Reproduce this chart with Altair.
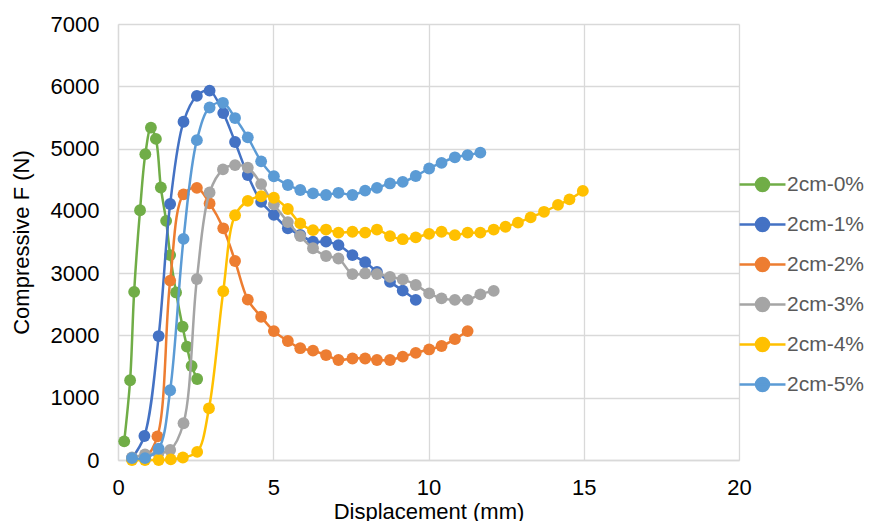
import altair as alt
import pandas as pd

series = ["2cm-0%", "2cm-1%", "2cm-2%", "2cm-3%", "2cm-4%", "2cm-5%"]
colors = ["#70AD47", "#4472C4", "#ED7D31", "#A5A5A5", "#FFC000", "#5B9BD5"]

x_0 = [0.20, 0.39, 0.52, 0.71, 0.88, 1.06, 1.22, 1.38, 1.55, 1.68, 1.87, 2.08, 2.22, 2.37, 2.55]
f_0 = [300, 1280, 2700, 4010, 4910, 5335, 5155, 4375, 3840, 3290, 2690, 2140, 1820, 1510, 1300]

x_1 = [0.45, 0.85, 1.31, 1.68, 2.11, 2.54, 2.95, 3.39, 3.77, 4.18, 4.61, 5.02, 5.47, 5.87,
       6.28, 6.70, 7.10, 7.55, 7.96, 8.34, 8.76, 9.17, 9.59]
f_1 = [30, 385, 1990, 4110, 5430, 5845, 5930, 5570, 5105, 4575, 4145, 3935, 3720, 3615,
       3505, 3505, 3450, 3290, 3175, 3020, 2860, 2720, 2570]

x_2 = [0.45, 0.87, 1.27, 1.68, 2.11, 2.54, 2.95, 3.39, 3.77, 4.18, 4.61, 5.02, 5.47, 5.87,
       6.28, 6.70, 7.10, 7.55, 7.96, 8.34, 8.76, 9.17, 9.59, 10.02, 10.42, 10.85, 11.26]
f_2 = [20, 40, 380, 2880, 4265, 4370, 4120, 3720, 3195, 2575, 2300, 2070, 1910, 1795,
       1755, 1685, 1605, 1630, 1630, 1605, 1605, 1660, 1720, 1775, 1830, 1940, 2070]

x_3 = [0.45, 0.87, 1.30, 1.68, 2.11, 2.54, 2.95, 3.38, 3.77, 4.18, 4.61, 5.02, 5.47, 5.87,
       6.28, 6.70, 7.10, 7.55, 7.96, 8.34, 8.76, 9.17, 9.59, 10.02, 10.42, 10.85, 11.26,
       11.67, 12.10]
f_3 = [40, 90, 110, 160, 590, 2905, 4295, 4665, 4735, 4695, 4430, 4105, 3820, 3595,
       3400, 3275, 3235, 2985, 2995, 2985, 2940, 2900, 2810, 2675, 2595, 2570, 2570,
       2660, 2715]

x_4 = [0.45, 0.87, 1.31, 1.70, 2.09, 2.55, 2.93, 3.39, 3.77, 4.18, 4.61, 5.02, 5.47, 5.87,
       6.28, 6.70, 7.10, 7.55, 7.96, 8.34, 8.76, 9.17, 9.59, 10.02, 10.42, 10.85, 11.26,
       11.67, 12.10, 12.48, 12.88, 13.29, 13.72, 14.17, 14.54, 14.97]
f_4 = [0, 0, 0, 10, 40, 130, 830, 2710, 3930, 4160, 4235, 4210, 4030, 3800,
       3690, 3700, 3650, 3665, 3650, 3700, 3595, 3545, 3575, 3630, 3665, 3610, 3650,
       3650, 3700, 3745, 3810, 3895, 3985, 4095, 4185, 4320]

x_5 = [0.45, 0.87, 1.31, 1.68, 2.11, 2.54, 2.95, 3.38, 3.77, 4.18, 4.61, 5.02, 5.47, 5.87,
       6.28, 6.70, 7.10, 7.55, 7.96, 8.34, 8.76, 9.17, 9.59, 10.02, 10.42, 10.85, 11.26,
       11.67]
f_5 = [30, 30, 180, 1120, 3550, 5135, 5660, 5735, 5490, 5180, 4795, 4555, 4415, 4335,
       4280, 4255, 4290, 4255, 4325, 4370, 4440, 4465, 4560, 4680, 4770, 4860, 4895,
       4935]

x_ticks = [0, 5, 10, 15, 20]
y_ticks = [0, 1000, 2000, 3000, 4000, 5000, 6000, 7000]

xs = [x_0, x_1, x_2, x_3, x_4, x_5]
fs = [f_0, f_1, f_2, f_3, f_4, f_5]
rows = []
for name, xv, fv in zip(series, xs, fs):
    for a, b in zip(xv, fv):
        rows.append({"disp": a, "force": b, "series": name})
df = pd.DataFrame(rows)

FONT = "Liberation Sans"
R = 0.59
sym = f"M-2.09,0L2.09,0M-{R},0A{R},{R},0,1,1,{R},0A{R},{R},0,1,1,-{R},0Z"

legend = alt.Legend(
    title=None, orient="none", legendX=632, legendY=148, padding=0,
    symbolType=sym, symbolSize=484, symbolStrokeWidth=2.5, symbolOpacity=1,
    labelFont=FONT, labelFontSize=21, labelColor="#595959", labelOffset=12,
    rowPadding=16, labelLimit=200,
)

x_enc = alt.X("disp:Q", title="Displacement (mm)",
              scale=alt.Scale(domain=[0, 20], nice=False),
              axis=alt.Axis(values=x_ticks, format="d", labelPadding=17, titlePadding=3,
                            labelFlush=False))
y_enc = alt.Y("force:Q", title="Compressive F (N)",
              scale=alt.Scale(domain=[0, 7000], nice=False),
              axis=alt.Axis(values=y_ticks, format="d", labelPadding=19, titlePadding=17,
                            labelFlush=False))
c_enc = alt.Color("series:N", scale=alt.Scale(domain=series, range=colors), legend=legend)

base = alt.Chart(df)
layers = []
for name in series:
    sub = base.transform_filter(alt.datum.series == name)
    layers.append(sub.mark_line(interpolate="catmull-rom", strokeWidth=2.5).encode(
        x=x_enc, y=y_enc, color=c_enc))
    layers.append(sub.mark_circle(size=140, opacity=1).encode(
        x=x_enc, y=y_enc, color=c_enc))

chart = alt.layer(*layers).properties(
    width=621, height=436,
    background="white",
    autosize=alt.AutoSizeParams(type="none"),
    padding={"left": 110, "top": 16, "right": 127, "bottom": 61},
).configure_view(stroke=None).configure_axis(
    grid=True, gridColor="#d9d9d9", gridWidth=1.3,
    domainColor="#d9d9d9", domainWidth=1.3,
    ticks=False, tickSize=0,
    labelFont=FONT, labelFontSize=22, labelColor="#000000",
    titleFont=FONT, titleFontSize=22, titleColor="#000000", titleFontWeight="normal",
)

chart.save("out.html", embed_options={"renderer": "svg", "actions": False})
